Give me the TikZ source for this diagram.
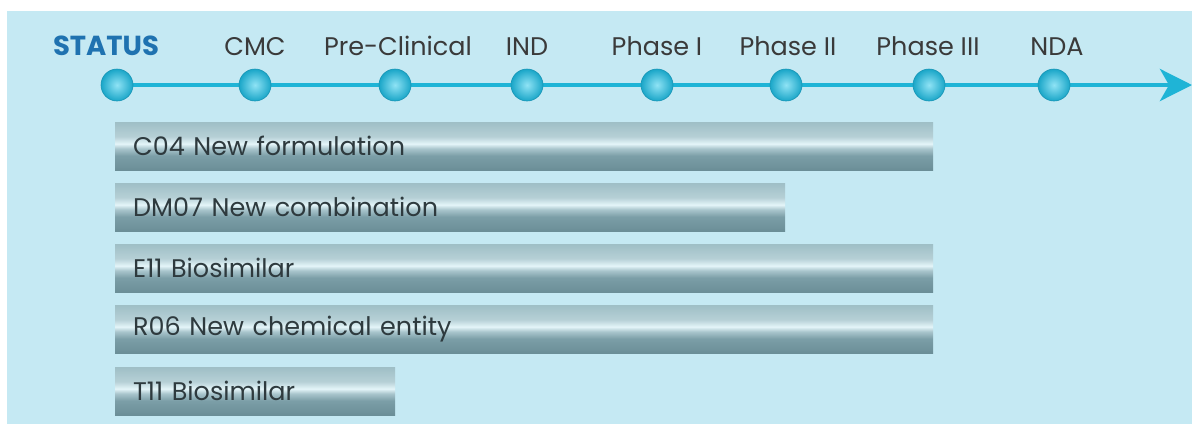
\documentclass[tikz,border=0pt]{standalone}
\usepackage{fontspec}
\setmainfont{Poppins}
\usepackage{tikz}
\usetikzlibrary{arrows.meta,positioning}

\definecolor{bgblue}{HTML}{C5E9F3}
\definecolor{linecyan}{HTML}{1FB4D6}
\definecolor{ballhi}{HTML}{8FE3F5}
\definecolor{balllo}{HTML}{1AA6C8}
\definecolor{balledge}{HTML}{1895B5}
\definecolor{statusblue}{HTML}{1F72B0}
\definecolor{tagtext}{HTML}{3A3A3A}
\definecolor{bartext}{HTML}{2E3A3E}
\definecolor{barlo}{HTML}{6B8E97}
\definecolor{barlomid}{HTML}{7B9EA7}
\definecolor{barmid}{HTML}{A9C5CC}
\definecolor{barhi}{HTML}{E4F5F9}
\definecolor{barupmid}{HTML}{B6D0D6}
\definecolor{bartop}{HTML}{9FBFC6}

\pgfdeclareverticalshading{barshade}{100bp}{color(0bp)=(barlo); color(25bp)=(barlo); color(40bp)=(barlomid); color(47.5bp)=(barmid); color(52.5bp)=(barhi); color(60bp)=(barupmid); color(75bp)=(bartop); color(100bp)=(bartop)}

\pgfdeclarelayer{bg}
\pgfdeclarelayer{axisline}
\pgfsetlayers{bg,axisline,main}

\tikzset{
  station/.style={circle, minimum size=32pt, inner sep=0pt, draw=balledge, line width=0.6pt, inner color=ballhi, outer color=balllo},
  tag/.style={anchor=base, text=tagtext, font=\fontsize{25.5}{28}\selectfont},
  bar/.style={shade, shading=barshade, anchor=north west, minimum height=48pt, inner xsep=18pt, inner ysep=0pt, text width=#1, align=left, text=bartext, font=\fontsize{25.5}{28}\selectfont}
}

\begin{document}
\begin{tikzpicture}[x=1pt, y=-1pt]
\useasboundingbox (0,0) rectangle (1199,424);
\begin{pgfonlayer}{bg}
\fill[bgblue] (7,11) rectangle (1192,424);
\end{pgfonlayer}

% time line
\coordinate (base) at (0,55);
\coordinate (tip) at (1192,85);
\node[station] (st0) at (117,85) {};
\node[station] (st1) at (255,85) {};
\node[station] (st2) at (395,85) {};
\node[station] (st3) at (527,85) {};
\node[station] (st4) at (657,85) {};
\node[station] (st5) at (786,85) {};
\node[station] (st6) at (929,85) {};
\node[station] (st7) at (1054,85) {};
\begin{pgfonlayer}{axisline}
\draw[linecyan, line width=4.5pt, -{Stealth[length=32pt, width=32pt, inset=9pt]}] (st0.center) -- (tip);
\end{pgfonlayer}

\node[tag, text=statusblue, font=\bfseries\fontsize{27.5}{30}\selectfont] (lstatus) at (106,55) {STATUS};
\node[tag] (lcmc) at (st1 |- base) {CMC};
\node[tag] (lpre) at (398,55) {Pre-Clinical};
\node[tag] (lind) at (st3 |- base) {IND};
\node[tag] (lph1) at (st4 |- base) {Phase I};
\node[tag] (lph2) at (788,55) {Phase II};
\node[tag] (lph3) at (928,55) {Phase III};
\node[tag] (lnda) at (1057,55) {NDA};

% products
\node[bar=782pt] (c04) at (115,122) {C04 New formulation};
\node[bar=634pt] (dm07) at (115,183) {DM07 New combination};
\node[bar=782pt] (e11) at (115,244) {E11 Biosimilar};
\node[bar=782pt] (r06) at (115,305) {R06 New chemical entity};
\node[bar=244pt] (t11) at (115,367) {T11 Biosimilar};
\end{tikzpicture}
\end{document}
